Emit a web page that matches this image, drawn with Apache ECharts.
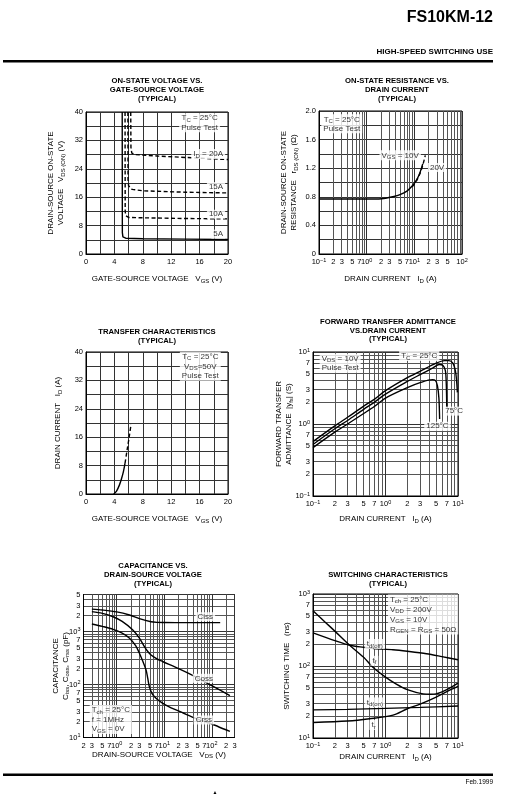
<!DOCTYPE html>
<html>
<head>
<meta charset="utf-8">
<script src="https://cdn.jsdelivr.net/npm/echarts@6/dist/echarts.min.js"></script>
<style>
  html, body { margin: 0; padding: 0; background: #fff; }
  #main { width: 529px; height: 796px; }
</style>
</head>
<body>
<div id="main"></div>
<script>
// ---- data ----

// on-state voltage vs gate-source voltage (x: VGS V, y: VDS(on) V)
var vdsOn5A  = [[5.1, 40], [5.12, 6], [5.2, 4.8], [5.6, 4.45], [8, 4.3], [14, 4.2], [20, 4.1]];
var vdsOn10A = [[5.5, 40], [5.52, 12], [5.6, 10.8], [6, 10.3], [8, 10.2], [14, 10.0], [20, 9.9]];
var vdsOn15A = [[5.9, 40], [5.92, 21], [6.0, 19.2], [6.5, 18.2], [8, 17.8], [14, 17.4], [20, 17.2]];
var vdsOn20A = [[6.3, 40], [6.33, 30], [6.45, 28.4], [7, 28], [10, 27.6], [15, 27.1], [20, 26.6]];
var vgsTicks = [0, 4, 8, 12, 16, 20];
var vdsOnTicks = [0, 8, 16, 24, 32, 40];

// on-state resistance vs drain current (x: ID A, y: rDS(on) ohm)
var rds10V = [[0.1, 0.77], [0.5, 0.77], [1, 0.77], [1.8, 0.77], [2.5, 0.78], [3.5, 0.8], [5, 0.83], [7, 0.88], [9, 0.95], [11, 1.03], [13, 1.13], [15, 1.26]];
var rds20V = [[9, 0.94], [11, 1.02], [13, 1.12], [15, 1.24], [17, 1.38]];
var rdsTicksX = [0.1, 0.2, 0.3, 0.5, 0.7, 1, 2, 3, 5, 7, 10, 20, 30, 50, 70, 100];
var rdsTicksY = [0, 0.4, 0.8, 1.2, 1.6, 2.0];

// transfer characteristics (x: VGS V, y: ID A)
var idSolid  = [[3.9, 0], [4.3, 0.8], [4.7, 2.5], [5.0, 4.3], [5.27, 6.3], [5.5, 8.7]];
var idDashed = [[5.5, 8.7], [5.8, 12.5], [6.1, 16.3], [6.35, 19.7]];

// forward transfer admittance (x: ID A, y: |yfs| S)
var yfs25  = [[0.1, 0.57], [0.2, 0.94], [0.3, 1.24], [0.5, 1.77], [0.7, 2.2], [1, 2.9], [2, 4.4], [3, 5.4], [5, 7.0], [6.5, 7.6], [7.5, 7.6], [8.5, 7.0], [9.2, 5.5], [9.6, 3.8], [9.8, 2.75]];
var yfs75  = [[0.1, 0.52], [0.2, 0.86], [0.3, 1.12], [0.5, 1.6], [0.7, 2.0], [1, 2.6], [2, 3.9], [3, 4.85], [4.5, 6.0], [5.5, 6.7], [6.2, 6.5], [6.7, 5.5], [6.9, 3.5], [7.0, 1.7]];
var yfs125 = [[0.1, 0.47], [0.2, 0.77], [0.3, 1.0], [0.5, 1.4], [0.7, 1.75], [1, 2.29], [2, 3.2], [3, 3.75], [4.43, 4.13], [4.9, 4.0], [5.2, 3.4], [5.45, 2.3], [5.58, 1.17]];
var decTicks = [0.1, 0.2, 0.3, 0.5, 0.7, 1, 2, 3, 5, 7, 10];

// capacitance vs drain-source voltage (x: VDS V, y: pF)
var ciss = [[0.3, 2650], [0.5, 2550], [1, 2350], [1.86, 2050], [3, 1750], [5.27, 1530], [7, 1490], [10, 1480], [30, 1470], [150, 1470]];
var coss = [[0.3, 2370], [0.5, 2200], [0.84, 1900], [1.3, 1550], [2.18, 1070], [3, 750], [3.82, 520], [4.5, 420], [5.27, 361], [7, 305], [9.2, 272], [20, 200], [45.6, 140], [100, 95], [240, 62]];
var crss = [[0.3, 1390], [0.5, 1250], [0.84, 1100], [1.3, 930], [1.86, 750], [2.5, 540], [3, 390], [3.5, 280], [4.14, 188], [4.5, 130], [4.85, 91], [5.5, 68], [6.7, 55], [9, 45], [12.7, 38], [25, 29], [45.6, 23], [100, 18], [240, 13]];
var capTicksX = [0.2, 0.3, 0.5, 0.7, 1, 2, 3, 5, 7, 10, 20, 30, 50, 70, 100, 200, 300];
var capTicksY = [10, 20, 30, 50, 70, 100, 200, 300, 500, 700, 1000, 2000, 3000, 5000];

// switching characteristics (x: ID A, y: ns)
var tdOff = [[0.1, 288], [0.2, 225], [0.32, 194], [0.5, 182], [0.7, 175], [1.27, 168], [2, 160], [3.67, 148], [6, 135], [10, 122]];
var tF    = [[0.1, 585], [0.15, 400], [0.2, 305], [0.32, 194], [0.5, 132], [0.67, 96], [1, 70], [1.41, 56], [2, 47], [3.3, 41], [4.2, 40.5], [5, 41], [7, 47], [10, 58]];
var tdOn  = [[0.1, 24.6], [0.3, 25], [1, 25.8], [3, 26.6], [10, 27.8]];
var tR    = [[0.1, 16.4], [0.3, 17.2], [0.6, 18.5], [1.27, 20.8], [2, 25.5], [3, 29.5], [5, 37], [7, 44], [10, 52]];
var swTicksY = [10, 20, 30, 50, 70, 100, 200, 300, 500, 700, 1000];

// ---- styles ----
var FONT = '"Liberation Sans", Arial, Helvetica, sans-serif';
var RICH = {
  n: { fontSize: 8, fontFamily: FONT, color: '#000', lineHeight: 10 },
  s: { fontSize: 6, fontFamily: FONT, color: '#000', lineHeight: 10, verticalAlign: 'bottom' },
  b: { fontSize: 7.5, fontFamily: FONT, color: '#000', lineHeight: 10 },
  e: { fontSize: 5.5, fontFamily: FONT, color: '#000', lineHeight: 6, verticalAlign: 'top' }
};
var GRIDLINE = { color: '#333', width: 1 };
var MINORLINE = { color: '#555', width: 1 };

function logFmt(v) {
  var p = Math.log10(v), e = Math.round(p);
  if (Math.abs(p - e) < 1e-6) return '{b|10}{e|' + (e < 0 ? '\u2212' + (-e) : e) + '}';
  return '{b|' + Math.round(v / Math.pow(10, Math.floor(p + 1e-9))) + '}';
}

function baseAxis(gi, pos, name, gap, labels, fmt) {
  return {
    gridIndex: gi, position: pos,
    name: name, nameLocation: 'middle', nameGap: gap, nameMoveOverlap: false,
    nameRotate: pos === 'left' ? 90 : 0,
    nameTextStyle: { fontFamily: FONT, fontSize: 8, color: '#000', lineHeight: 10, rich: RICH },
    axisLine: { show: true, lineStyle: { color: '#000', width: 1 } },
    axisTick: { show: false },
    axisLabel: {
      customValues: labels, formatter: fmt, fontFamily: FONT, fontSize: 7.5, color: '#000', margin: 3,
      rich: RICH, hideOverlap: false, showMinLabel: true, showMaxLabel: true
    },
    splitLine: { show: true, lineStyle: GRIDLINE }
  };
}
function linAxis(gi, pos, min, max, step, labels, fmt, name, gap) {
  var a = baseAxis(gi, pos, name, gap, labels, fmt);
  a.type = 'value'; a.min = min; a.max = max; a.interval = step;
  return a;
}
function logAxis(gi, pos, min, max, labels, name, gap) {
  var a = baseAxis(gi, pos, name, gap, labels, logFmt);
  a.type = 'log'; a.logBase = 10; a.min = min; a.max = max;
  a.minorTick = { show: false, splitNumber: 9 };
  a.minorSplitLine = { show: true, lineStyle: MINORLINE };
  return a;
}
function curve(gi, data, dashed, smooth) {
  return {
    type: 'line', xAxisIndex: gi, yAxisIndex: gi, data: data, symbol: 'none',
    smooth: smooth || false, silent: true, z: 3,
    lineStyle: { color: '#000', width: 1.4, type: dashed ? [4, 2.5] : 'solid' }
  };
}
function note(gi, x, y, text, align) {
  return {
    type: 'scatter', xAxisIndex: gi, yAxisIndex: gi, symbolSize: 0, silent: true, z: 6,
    data: [[x, y]],
    label: {
      show: true, position: 'inside', formatter: text, align: align || 'center',
      fontFamily: FONT, fontSize: 8, color: '#000', lineHeight: 9,
      backgroundColor: '#fff', padding: [0, 2], rich: RICH
    }
  };
}
function titleText(x, y, text) {
  return {
    type: 'text', x: x, y: y, silent: true,
    style: { text: text, align: 'center', verticalAlign: 'top', fontFamily: FONT, fontWeight: 'bold', fontSize: 7.7, lineHeight: 8.7, fill: '#000' }
  };
}

var fmtInt = function (v) { return '{b|' + v + '}'; };
var fmtRds = function (v) { return '{b|' + (v === 0 ? '0' : v.toFixed(1)) + '}'; };

var grids = [
  { left: 86, top: 112, width: 142, height: 142 },
  { left: 319, top: 111, width: 143, height: 143 },
  { left: 86, top: 352, width: 142, height: 142 },
  { left: 313, top: 352, width: 145, height: 144 },
  { left: 83.5, top: 594.5, width: 151, height: 143 },
  { left: 313, top: 594, width: 145, height: 144 }
].map(function (g) {
  g.show = true; g.borderColor = '#000'; g.borderWidth = 1; g.containLabel = false; g.outerBoundsMode = 'none';
  return g;
});

var option = {
  animation: false,
  backgroundColor: '#fff',
  grid: grids,
  xAxis: [
    linAxis(0, 'bottom', 0, 20, 2, vgsTicks, fmtInt, '{n|GATE-SOURCE VOLTAGE   V}{s|GS}{n| (V)}', 20),
    logAxis(1, 'bottom', 0.1, 100, rdsTicksX, '{n|DRAIN CURRENT   I}{s|D}{n| (A)}', 20),
    linAxis(2, 'bottom', 0, 20, 2, vgsTicks, fmtInt, '{n|GATE-SOURCE VOLTAGE   V}{s|GS}{n| (V)}', 20),
    logAxis(3, 'bottom', 0.1, 10, decTicks, '{n|DRAIN CURRENT   I}{s|D}{n| (A)}', 18),
    logAxis(4, 'bottom', 0.2, 300, capTicksX, '{n|DRAIN-SOURCE VOLTAGE   V}{s|DS}{n| (V)}', 12),
    logAxis(5, 'bottom', 0.1, 10, decTicks, '{n|DRAIN CURRENT   I}{s|D}{n| (A)}', 14)
  ],
  yAxis: [
    linAxis(0, 'left', 0, 40, 4, vdsOnTicks, fmtInt, '{n|DRAIN-SOURCE ON-STATE}\n{n|VOLTAGE   V}{s|DS (ON)}{n| (V)}', 20),
    linAxis(1, 'left', 0, 2, 0.2, rdsTicksY, fmtRds, '{n|DRAIN-SOURCE ON-STATE}\n{n|RESISTANCE   r}{s|DS (ON)}{n| (\u03A9)}', 20),
    linAxis(2, 'left', 0, 40, 4, vdsOnTicks, fmtInt, '{n|DRAIN CURRENT   I}{s|D}{n| (A)}', 23),
    logAxis(3, 'left', 0.1, 10, decTicks, '{n|FORWARD TRANSFER}\n{n|ADMITTANCE  |y}{s|fs}{n|| (S)}', 19),
    logAxis(4, 'left', 10, 5000, capTicksY, '{n|CAPACITANCE}\n{n|C}{s|iss}{n|, C}{s|oss}{n|, C}{s|rss}{n| (pF)}', 13),
    logAxis(5, 'left', 10, 1000, swTicksY, '{n|SWITCHING TIME   (ns)}', 21)
  ],
  series: [
    curve(0, vdsOn5A), curve(0, vdsOn10A, true), curve(0, vdsOn15A, true), curve(0, vdsOn20A, true),
    note(0, 16, 37, 'T{s|C} = 25°C\nPulse Test'),
    note(0, 19.6, 28.2, 'I{s|D} = 20A', 'right'),
    note(0, 19.6, 19, '15A', 'right'),
    note(0, 19.6, 11.2, '10A', 'right'),
    note(0, 19.6, 5.6, '5A', 'right'),

    curve(1, rds10V, false, 0.3), curve(1, rds20V, true, 0.3),
    note(1, 0.3, 1.82, 'T{s|C} = 25°C\nPulse Test'),
    note(1, 13.7, 1.38, 'V{s|GS} = 10V', 'right'),
    note(1, 19.3, 1.21, '20V', 'left'),

    curve(2, idSolid, false, 0.3), curve(2, idDashed, true, 0.3),
    note(2, 16.1, 36, 'T{s|C} = 25°C\nV{s|DS}=50V\nPulse Test'),

    curve(3, yfs25, false, 0.3), curve(3, yfs75, false, 0.3), curve(3, yfs125, false, 0.3),
    note(3, 0.237, 7.0, 'V{s|DS} = 10V\nPulse Test'),
    note(3, 2.92, 8.8, 'T{s|C} = 25°C'),
    note(3, 6.25, 1.51, '75°C', 'left'),
    note(3, 5.2, 0.93, '125°C'),

    curve(4, ciss, false, 0.3), curve(4, coss, false, 0.3), curve(4, crss, false, 0.3),
    note(4, 0.27, 21.9, 'T{s|ch} = 25°C\nf = 1MHz\nV{s|GS} = 0V', 'left'),
    note(4, 73, 1905, 'Ciss'),
    note(4, 68, 131, 'Coss'),
    note(4, 68, 21.4, 'Crss'),

    curve(5, tdOff, false, 0.3), curve(5, tF, false, 0.3), curve(5, tdOn, false, 0.3), curve(5, tR, false, 0.3),
    note(5, 1.08, 520, 'T{s|ch} = 25°C\nV{s|DD} = 200V\nV{s|GS} = 10V\nR{s|GEN} = R{s|GS} = 50\u03A9', 'left'),
    note(5, 0.516, 202, 't{s|d(off)}', 'left'),
    note(5, 0.62, 118, 't{s|f}', 'left'),
    note(5, 0.516, 31.2, 't{s|d(on)}', 'left'),
    note(5, 0.6, 15.2, 't{s|r}', 'left')
  ],
  graphic: [
    { type: 'text', x: 493, y: 18, silent: true, style: { text: 'FS10KM-12', align: 'right', verticalAlign: 'middle', fontFamily: FONT, fontWeight: 'bold', fontSize: 16, fill: '#000' } },
    { type: 'text', x: 493, y: 51.5, silent: true, style: { text: 'HIGH-SPEED SWITCHING USE', align: 'right', verticalAlign: 'middle', fontFamily: FONT, fontWeight: 'bold', fontSize: 8, fill: '#000' } },
    { type: 'rect', silent: true, shape: { x: 3, y: 60, width: 490, height: 2.5 }, style: { fill: '#000' } },
    { type: 'rect', silent: true, shape: { x: 3, y: 773.5, width: 490, height: 2.5 }, style: { fill: '#000' } },
    { type: 'text', x: 493, y: 782, silent: true, style: { text: 'Feb.1999', align: 'right', verticalAlign: 'middle', fontFamily: FONT, fontSize: 6.5, fill: '#000' } },
    { type: 'text', x: 215, y: 793, silent: true, style: { text: '\u25B2', align: 'center', verticalAlign: 'middle', fontFamily: FONT, fontSize: 5, fill: '#000' } },
    titleText(157, 77, 'ON-STATE VOLTAGE VS.\nGATE-SOURCE VOLTAGE\n(TYPICAL)'),
    titleText(397, 77, 'ON-STATE RESISTANCE VS.\nDRAIN CURRENT\n(TYPICAL)'),
    titleText(157, 327.5, 'TRANSFER CHARACTERISTICS\n(TYPICAL)'),
    titleText(388, 317.5, 'FORWARD TRANSFER ADMITTANCE\nVS.DRAIN CURRENT\n(TYPICAL)'),
    titleText(153, 562, 'CAPACITANCE VS.\nDRAIN-SOURCE VOLTAGE\n(TYPICAL)'),
    titleText(388, 571, 'SWITCHING CHARACTERISTICS\n(TYPICAL)')
  ]
};

var chart = echarts.init(document.getElementById('main'));
chart.setOption(option);
</script>
</body>
</html>
